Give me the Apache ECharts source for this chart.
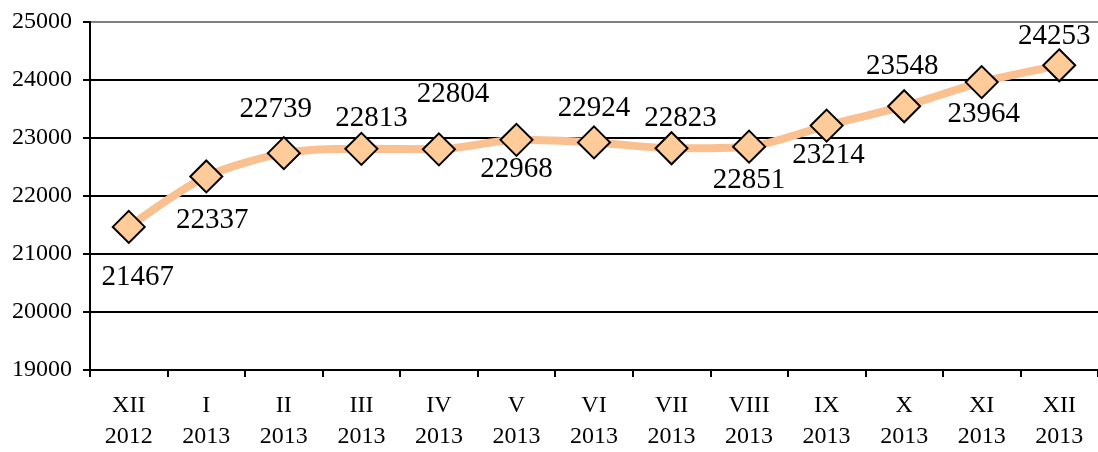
<!DOCTYPE html>
<html><head><meta charset="utf-8">
<script src="https://cdn.jsdelivr.net/npm/echarts@6/dist/echarts.min.js"></script>
<style>html,body{margin:0;padding:0;background:#fff}#c{width:1098px;height:452px}</style>
</head><body><div id="c"></div>
<script>
const months = ['XII','I','II','III','IV','V','VI','VII','VIII','IX','X','XI','XII'];
const years = ['2012','2013','2013','2013','2013','2013','2013','2013','2013','2013','2013','2013','2013'];
const values = [21467,22337,22739,22813,22804,22968,22924,22823,22851,23214,23548,23964,24253];
const yTicks = [19000,20000,21000,22000,23000,24000,25000];
// label placement (style only)
const labelOffsets = [[9,50],[6,44],[-8,-44],[10,-30],[14,-55],[0,30],[0,-34],[9,-30],[0,34],[2,30],[-2,-40],[2,32],[-5,-29]];

const categories = months.map((m,i)=>m+'\n'+years[i]);
const chart = echarts.init(document.getElementById('c'));
const font = '"Liberation Serif","Times New Roman",serif';
chart.setOption({
  animation:false,
  grid:{left:90,right:-3,top:22,bottom:76},
  xAxis:{type:'category',data:categories,boundaryGap:true,
    axisLine:{lineStyle:{color:'#000',width:2}},
    axisTick:{show:true,length:7,lineStyle:{color:'#000',width:2},interval:0},
    axisLabel:{color:'#000',fontFamily:font,fontSize:24,lineHeight:31,margin:20,interval:0}},
  yAxis:{type:'value',min:yTicks[0],max:yTicks[yTicks.length-1],interval:1000,
    axisLine:{show:true,lineStyle:{color:'#000',width:2}},
    axisTick:{show:true,length:7,lineStyle:{color:'#000',width:2}},
    axisLabel:{color:'#000',fontFamily:font,fontSize:24,margin:18,formatter:v=>String(v)},
    splitLine:{show:true,lineStyle:{color:['#000','#000','#000','#000','#000','#000','#808080'],width:2}}},
  series:[{type:'line',smooth:0.25,
    data:values.map((v,i)=>({value:v,label:{offset:labelOffsets[i]}})),
    lineStyle:{color:'#FAC090',width:8},
    symbol:'diamond',symbolSize:32,
    itemStyle:{color:'#FFCC99',borderColor:'#000',borderWidth:2},
    label:{show:true,position:'inside',color:'#000',fontFamily:font,fontSize:29}
  }]
});
</script></body></html>
